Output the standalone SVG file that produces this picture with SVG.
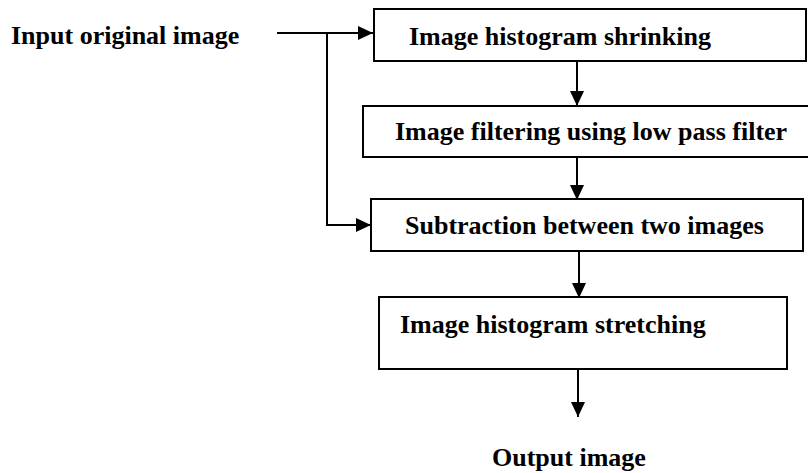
<svg xmlns="http://www.w3.org/2000/svg" width="808" height="473" viewBox="0 0 808 473">
  <defs>
    <style>
      .box { fill: #ffffff; stroke: #000000; stroke-width: 2; }
      .lbl { font-family: "Liberation Serif", "Times New Roman", serif; font-weight: bold; font-size: 26px; fill: #000000; }
      .wire { fill: none; stroke: #000000; stroke-width: 2; }
    </style>
    <marker id="arrow" markerUnits="userSpaceOnUse" markerWidth="16" markerHeight="16" viewBox="0 0 16 16" refX="15" refY="8" orient="auto">
      <path d="M0,1 L15,8 L0,15 Z" fill="#000000"/>
    </marker>
  </defs>
  <rect width="808" height="473" fill="#ffffff"/>

  <!-- connectors -->
  <g id="connectors">
    <path class="wire" d="M277,33 L373,33" marker-end="url(#arrow)"/>
    <path class="wire" d="M327,33 L327,225 L371,225" marker-end="url(#arrow)"/>
    <path class="wire" d="M577,61 L577,106" marker-end="url(#arrow)"/>
    <path class="wire" d="M577,157 L577,200" marker-end="url(#arrow)"/>
    <path class="wire" d="M579,251 L579,298" marker-end="url(#arrow)"/>
    <path class="wire" d="M578,369 L578,417" marker-end="url(#arrow)"/>
  </g>

  <!-- terminals -->
  <g id="input">
    <text class="lbl" x="11" y="44">Input original image</text>
  </g>
  <g id="output">
    <text class="lbl" x="492" y="466">Output image</text>
  </g>

  <!-- processing steps -->
  <g id="shrink">
    <rect class="box" x="374" y="9" width="432" height="52"/>
    <text class="lbl" x="409" y="45">Image histogram shrinking</text>
  </g>
  <g id="filter">
    <rect class="box" x="363" y="106" width="450" height="51"/>
    <text class="lbl" x="395" y="140">Image filtering using low pass filter</text>
  </g>
  <g id="subtract">
    <rect class="box" x="371" y="199" width="432" height="52"/>
    <text class="lbl" x="405" y="234">Subtraction between two images</text>
  </g>
  <g id="stretch">
    <rect class="box" x="379" y="297" width="408" height="72"/>
    <text class="lbl" x="400" y="333">Image histogram stretching</text>
  </g>
</svg>
